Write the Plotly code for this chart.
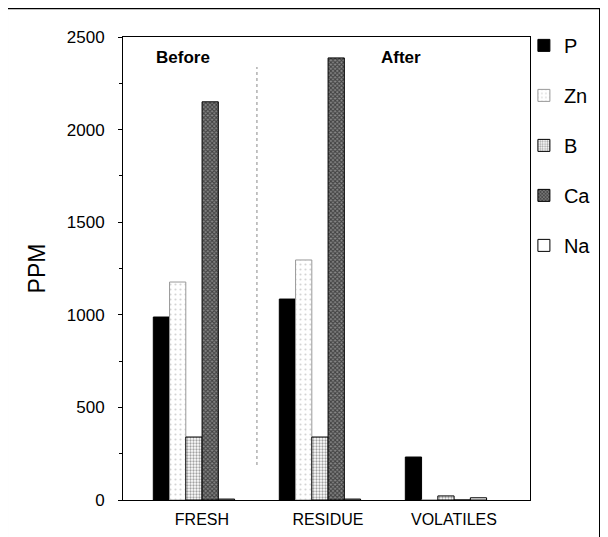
import plotly.graph_objects as go

categories = ["FRESH", "RESIDUE", "VOLATILES"]
elements = ["P", "Zn", "B", "Ca", "Na"]
p_vals = [988, 1085, 232]
zn_vals = [1177, 1296, 0]
b_vals = [340, 340, 22]
ca_vals = [2150, 2387, 0]
na_vals = [5, 5, 12]
series = [p_vals, zn_vals, b_vals, ca_vals, na_vals]

styles = {
    "P": dict(color="#000000", line=dict(color="black", width=1), pattern=None),
    "Zn": dict(color="#ffffff", line=dict(color="#999999", width=1),
               pattern=dict(shape=".", fgcolor="#aaaaaa", bgcolor="#ffffff", size=5, solidity=0.15)),
    "B": dict(color="#ffffff", line=dict(color="black", width=1),
              pattern=dict(shape=".", fgcolor="#444444", bgcolor="#ffffff", size=3, solidity=0.45)),
    "Ca": dict(color="#ffffff", line=dict(color="black", width=1),
               pattern=dict(shape="x", fgcolor="#000000", bgcolor="#888888", size=3, solidity=0.6)),
    "Na": dict(color="#ffffff", line=dict(color="black", width=1), pattern=None),
}

fig = go.Figure()
for name, vals in zip(elements, series):
    s = styles[name]
    marker = dict(color=s["color"], line=s["line"])
    if s["pattern"]:
        marker["pattern"] = s["pattern"]
    fig.add_trace(go.Bar(x=categories, y=vals, name=name, marker=marker, legendgroup=name))

font = "Liberation Sans, Arial, sans-serif"

# dotted divider between before / after
fig.add_shape(type="line", x0=0.5, x1=0.5, y0=189, y1=2338, xref="x", yref="y",
              line=dict(color="#888888", width=1, dash="dot"))
fig.add_annotation(x=-0.09, y=2392, text="<b>Before</b>", showarrow=False, xref="x", yref="y",
                   xanchor="center", font=dict(size=17, color="black", family=font))
fig.add_annotation(x=1.64, y=2392, text="<b>After</b>", showarrow=False, xref="x", yref="y",
                   xanchor="center", font=dict(size=17, color="black", family=font))

# outer frame
fig.add_shape(type="rect", xref="paper", yref="paper", x0=-0.285, x1=1.172, y0=-0.1, y1=1.062,
              line=dict(color="black", width=2))

fig.update_layout(
    width=600, height=529,
    paper_bgcolor="white", plot_bgcolor="white",
    margin=dict(l=115, r=78, t=29, b=37, autoexpand=False),
    barmode="group", bargap=0.355, bargroupgap=0,
    font=dict(family=font, color="black", size=14),
    legend=dict(x=0.985, y=1.024, xanchor="left", yanchor="top", font=dict(size=20),
                tracegroupgap=21, bgcolor="rgba(0,0,0,0)", itemwidth=30),
    showlegend=True,
)
fig.update_xaxes(range=[-0.563, 2.667], showline=True, linecolor="black", linewidth=1, mirror=True,
                 ticks="", automargin=False, tickfont=dict(size=16),
                 ticklabelshift=8, ticklabelstandoff=5)
fig.update_yaxes(range=[0, 2500], showline=True, linecolor="black", linewidth=1, mirror=True,
                 ticks="outside", ticklen=4, tickcolor="black", dtick=500, showgrid=False,
                 zeroline=False, automargin=False, tickfont=dict(size=17), ticklabelstandoff=10,
                 minor=dict(ticks="outside", ticklen=3, dtick=250, tickcolor="black"),
                 title=dict(text="PPM", font=dict(size=23), standoff=14))

fig.write_html("out.html")
